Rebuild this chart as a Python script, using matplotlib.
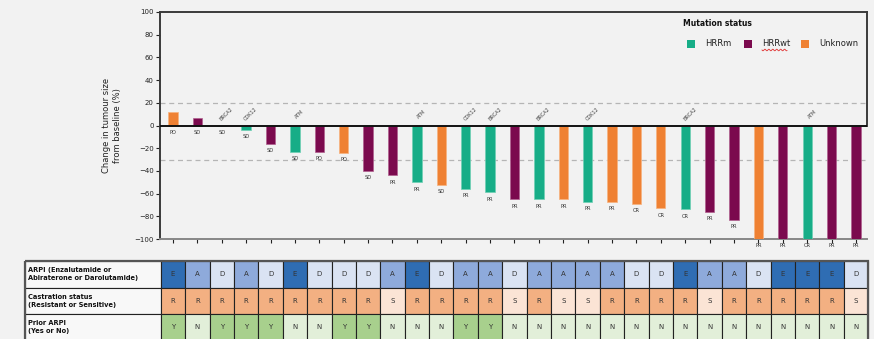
import numpy as np
import matplotlib.pyplot as plt
from matplotlib.patches import Rectangle

# best % change in tumour size per patient, sorted
change = [12, 7, 0, -4, -16, -23, -23, -24, -40, -44, -50, -52, -56, -59, -65,
          -65, -65, -67, -67, -69, -73, -74, -76, -83, -100, -100, -100, -100, -100]
mutation = ['U', 'W', 'M', 'M', 'W', 'M', 'W', 'U', 'W', 'W', 'M', 'U', 'M', 'M', 'W',
            'M', 'U', 'M', 'U', 'U', 'U', 'M', 'W', 'W', 'U', 'W', 'M', 'W', 'W']
response = ['PD', 'SD', 'SD', 'SD', 'SD', 'SD', 'PD', 'PD', 'SD', 'PR', 'PR', 'SD', 'PR', 'PR', 'PR',
            'PR', 'PR', 'PR', 'PR', 'CR', 'CR', 'CR', 'PR', 'PR', 'PR', 'PR', 'CR', 'PR', 'PR']
genes = {2: 'BRCA2', 3: 'CDK12', 5: 'ATM', 10: 'ATM', 12: 'CDK12', 13: 'BRCA2',
         15: 'BRCA2', 17: 'CDK12', 21: 'BRCA2', 26: 'ATM'}

arpi = list('EADADEDDDAEDAADAAAADDEAADEEED')
castration = list('RRRRRRRRRSRRRRSRSSRRRRSRRRRRS')
prior_arpi = list('YNYYYNNYYNNNYYNNNNNNNNNNNNNNN')

row_labels = ['ARPI (Enzalutamide or\nAbiraterone or Darolutamide)',
              'Castration status\n(Resistant or Sensitive)',
              'Prior ARPI\n(Yes or No)']

mut_colors = {'M': '#17ad87', 'W': '#7b0a4e', 'U': '#ef8133'}
mut_edges = {'M': '#6fd0b4', 'W': '#b0608f', 'U': '#f7b27e'}
mut_names = {'M': 'HRRm', 'W': 'HRRwt', 'U': 'Unknown'}
cell_colors = {'E': '#2f6db3', 'A': '#8eaadb', 'D': '#dae3f3',
               'R': '#f3b082', 'S': '#fbe4d5',
               'Y': '#a8d08d', 'N': '#e2efd9'}

bg = '#f2f2f2'
W, H = 874, 339
fig = plt.figure(figsize=(W / 100, H / 100), dpi=100, facecolor=bg)

x = np.arange(len(change))
xlim = (-0.53, len(change) - 0.55)

# waterfall
ax = fig.add_axes([160 / W, 1 - 239 / H, 707 / W, 227 / H], facecolor=bg)
ax.bar(x, change, width=0.38, color=[mut_colors[m] for m in mutation],
       edgecolor=[mut_edges[m] for m in mutation], linewidth=0.5, zorder=3)
ax.set_xlim(*xlim)
ax.set_ylim(-100, 100)
ax.set_yticks(range(-100, 101, 20))
ax.set_xticks(x)
ax.set_xticklabels([])
ax.tick_params(axis='y', labelsize=5, length=3, width=0.8, pad=1.5, colors='#222222')
ax.tick_params(axis='x', length=3, width=0.8, colors='#222222')
for s in ['left', 'top', 'bottom']:
    ax.spines[s].set_linewidth(1.4)
    ax.spines[s].set_color('#3a3a3a')
ax.spines['bottom'].set_color('#888888')
ax.spines['right'].set_visible(False)
ax.plot([xlim[1], xlim[1]], [0, 100], color='#3a3a3a', lw=1.4, clip_on=False, zorder=4)
ax.axhline(0, color='#111111', lw=1.4, zorder=4)
for yv in (20, -30):
    ax.axhline(yv, color='#b5b5b5', lw=0.9, dashes=(4, 3), zorder=1)

for i, (v, r) in enumerate(zip(change, response)):
    yl = min(v, 0) - 6 if v > -100 else -106
    ax.text(i, yl, r, ha='center', va='center', fontsize=3.7, color='#333333',
            clip_on=False, zorder=5)
for i, g in genes.items():
    ax.text(i + 0.2, 10, g, ha='center', va='center', rotation=45,
            fontsize=3.6, color='#444444', zorder=5)

ax.set_ylabel('Change in tumour size\nfrom baseline (%)', fontsize=6,
              color='#222222', labelpad=9)

# legend
fig.text(717 / W, 1 - 24 / H, 'Mutation status', ha='center', va='center',
         fontsize=5.5, fontweight='bold', color='#111111')
for key, xs in zip(['M', 'W', 'U'], [691, 748, 805]):
    fig.patches.append(Rectangle(((xs - 4) / W, 1 - 48 / H), 8 / W, 8 / H,
                                 transform=fig.transFigure,
                                 facecolor=mut_colors[key], edgecolor='none'))
    fig.text((xs + 14) / W, 1 - 44 / H, mut_names[key], ha='left', va='center',
             fontsize=6, color='#222222')
# spell-check squiggle under HRRwt
sq = np.linspace(762, 787, 60)
fig.lines.append(plt.Line2D(sq / W, 1 - (50 + 0.8 * np.sin((sq - 762) * 1.6)) / H,
                            transform=fig.transFigure, color='#e03030', lw=0.6))

# table under the waterfall
row_h = 26.5
tax = fig.add_axes([160 / W, 0, 707 / W, 78 / H])
tax.set_xlim(*xlim)
tax.set_ylim(78 / row_h, 0)
tax.axis('off')
label_left = xlim[0] - 135 / (707 / (xlim[1] - xlim[0]))
for r, (vals, lab) in enumerate(zip([arpi, castration, prior_arpi], row_labels)):
    tax.add_patch(Rectangle((label_left, r), -0.5 - label_left, 1, facecolor='#f8f8f8',
                            edgecolor='#222222', lw=0.8, clip_on=False))
    tax.text(label_left + 0.12, r + 0.5, lab, ha='left', va='center', fontsize=4.8,
             fontweight='bold', color='#111111', linespacing=1.35, clip_on=False)
    for i, v in enumerate(vals):
        tax.add_patch(Rectangle((i - 0.5, r), 1, 1, facecolor=cell_colors[v],
                                edgecolor='#222222', lw=0.8, clip_on=False))
        tax.text(i, r + 0.5, v, ha='center', va='center', fontsize=5,
                 color='#333333', clip_on=False)
# outer frame of the table
tax.add_patch(Rectangle((label_left, 0), len(arpi) - 0.5 - label_left, 3, fill=False,
                        edgecolor='#555555', lw=1.6, clip_on=False))

plt.savefig('out.png', dpi=100, facecolor=bg)
